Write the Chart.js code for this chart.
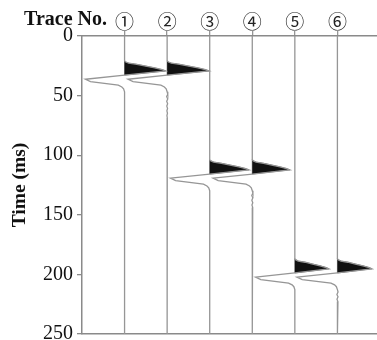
<!DOCTYPE html>
<html>
<head>
<meta charset="utf-8">
<script src="https://cdn.jsdelivr.net/npm/chart.js@4/dist/chart.umd.min.js"></script>
<style>
  html, body { margin: 0; padding: 0; background: #fff; }
  #wrap { width: 377px; height: 340px; position: relative; }
</style>
</head>
<body>
<div id="wrap"><canvas id="c"></canvas></div>
<script>
// Trace numbers and their circled labels
const traceNumbers = [1, 2, 3, 4, 5, 6];
const traceLabels = ['①', '②', '③', '④', '⑤', '⑥'];

// Time axis ticks (ms)
const timeTicks = [0, 50, 100, 150, 200, 250];

// Arrival time (ms) of the pulse on each trace
const arrivalTimes = [20.8, 20.8, 103.8, 103.8, 186.8, 186.8];
// Peak / trough size on each trace (in trace spacings)
const peakAmps = [0.96, 0.98, 0.92, 0.88, 0.80, 0.81];
const troughAmps = [0.92, 0.92, 0.92, 0.92, 0.92, 0.95];

// Pulse shape: time after arrival (ms) and normalised amplitude
const pulseTimes = [0, 1, 2, 3, 4.5, 6, 7.5, 8.5, 12.0, 15.5, 17.5, 20.5, 22, 23.5, 26];
const pulseAmps  = [0, 0.03, 0.1, 0.3, 0.52, 0.74, 0.92, 1, 0, -1, -0.87, -0.16, -0.07, -0.025, 0];

// Faint ringing after the pulse on traces 2, 4 and 6
const ringTimes = [28, 30, 32, 34, 36, 38, 40, 42, 44, 46, 48, 50];
const ringAmps  = [0.015, -0.012, 0.014, -0.01, 0.012, -0.008, 0.01, -0.006, 0.008, -0.005, 0.004, 0];
const ringingTraces = [2, 4, 6];

const T_MAX = 250;
const X_MAX = 6.93;
const SERIF = "'Liberation Serif', 'Times New Roman', 'DejaVu Serif', serif";

function scaled(i, a) {
  return a * (a >= 0 ? peakAmps[i] : troughAmps[i]);
}

function traceLine(i) {
  const k = traceNumbers[i], t0 = arrivalTimes[i];
  const pts = [{ x: k, y: 0 }];
  pulseTimes.forEach((dt, j) => pts.push({ x: k + scaled(i, pulseAmps[j]), y: t0 + dt }));
  if (ringingTraces.includes(k)) {
    ringTimes.forEach((dt, j) => pts.push({ x: k + ringAmps[j], y: t0 + dt }));
  }
  pts.push({ x: k, y: T_MAX });
  return pts;
}

function positiveLobe(i) {
  const k = traceNumbers[i], t0 = arrivalTimes[i];
  const pts = [];
  const peak = pulseAmps.indexOf(1);
  for (let j = 0; j < pulseTimes.length; j++) {
    pts.push({ x: k + scaled(i, pulseAmps[j]), y: t0 + pulseTimes[j] });
    if (j > peak && pulseAmps[j] === 0) break;
  }
  pts.push({ x: k, y: t0 });
  return pts;
}

const datasets = [];
traceNumbers.forEach((k, i) => {
  datasets.push({
    data: traceLine(i),
    borderColor: '#969696',
    borderWidth: 1.3,
    pointRadius: 0,
    fill: false,
    tension: 0
  });
});
traceNumbers.forEach((k, i) => {
  datasets.push({
    data: positiveLobe(i),
    borderColor: '#111',
    borderWidth: 0.5,
    backgroundColor: '#111',
    pointRadius: 0,
    fill: 'shape',
    tension: 0
  });
});

const headingPlugin = {
  id: 'heading',
  afterDraw(chart) {
    const ctx = chart.ctx;
    ctx.save();
    ctx.font = 'bold 20px ' + SERIF;
    ctx.fillStyle = '#111';
    ctx.textAlign = 'right';
    ctx.textBaseline = 'alphabetic';
    ctx.fillText('Trace No.', 107, 25);
    ctx.restore();
  }
};

function noEndPadding(s) {
  s.paddingTop = 0;
  s.paddingBottom = 0;
  s.paddingLeft = 0;
  s.paddingRight = 0;
}

new Chart(document.getElementById('c'), {
  type: 'line',
  data: { datasets },
  plugins: [headingPlugin],
  options: {
    responsive: true,
    maintainAspectRatio: false,
    animation: false,
    layout: { padding: 0 },
    plugins: { legend: { display: false }, tooltip: { enabled: false } },
    scales: {
      x: {
        type: 'linear',
        position: 'top',
        min: 0,
        max: X_MAX,
        afterBuildTicks: (s) => { s.ticks = traceNumbers.map(v => ({ value: v })); },
        afterFit: (s) => { s.height = 36; noEndPadding(s); },
        ticks: {
          callback: (v) => traceLabels[traceNumbers.indexOf(v)] || '',
          font: { family: "'Noto Sans CJK JP', 'DejaVu Sans', sans-serif", size: 19 },
          color: '#222',
          padding: -2,
          maxRotation: 0,
          autoSkip: false
        },
        grid: { drawOnChartArea: false, drawTicks: true, tickLength: 5, color: '#969696', lineWidth: 1.3 },
        border: { display: true, color: '#8a8a8a', width: 1.5 }
      },
      x2: {
        type: 'linear',
        position: 'bottom',
        min: 0,
        max: X_MAX,
        afterFit: (s) => { s.height = 6; noEndPadding(s); },
        ticks: { display: false },
        grid: { display: true, drawOnChartArea: false, drawTicks: false, tickLength: 0 },
        border: { display: true, color: '#8a8a8a', width: 1.5 }
      },
      y: {
        type: 'linear',
        reverse: true,
        min: 0,
        max: T_MAX,
        afterBuildTicks: (s) => { s.ticks = timeTicks.map(v => ({ value: v })); },
        afterFit: (s) => { s.width = 82; noEndPadding(s); },
        ticks: {
          font: { family: SERIF, size: 20 },
          color: '#111',
          padding: 4
        },
        grid: { drawOnChartArea: false, drawTicks: true, tickLength: 5, color: '#8a8a8a', lineWidth: 1.3 },
        border: { display: true, color: '#8a8a8a', width: 1.5 },
        title: {
          display: true,
          text: 'Time (ms)',
          font: { family: SERIF, size: 19.5, weight: 'bold' },
          color: '#111',
          padding: { top: 8, bottom: 0 }
        }
      }
    }
  }
});
</script>
</body>
</html>
